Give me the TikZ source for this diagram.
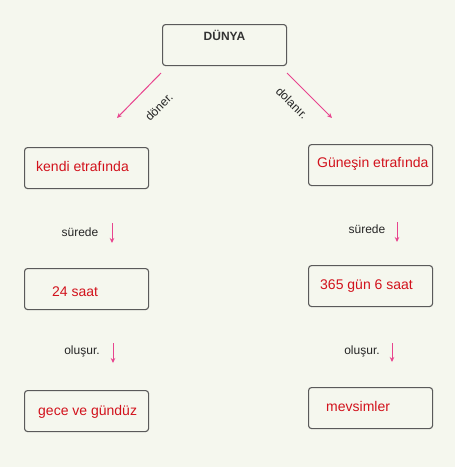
\documentclass[tikz,border=0pt]{standalone}
\usepackage{fontspec}
\setmainfont{Liberation Sans}
\usetikzlibrary{arrows.meta}
\definecolor{bgc}{HTML}{F5F7EE}
\definecolor{boxline}{HTML}{5A5A5A}
\definecolor{redtxt}{HTML}{D2121C}
\definecolor{pinkarr}{HTML}{E8448E}
\begin{document}
\begin{tikzpicture}[x=1pt,y=1pt,
  box/.style={draw=boxline,line width=1.1pt,rounded corners=3pt,fill=bgc,minimum width=124pt,minimum height=41pt,inner sep=0pt,anchor=north west},
  redlbl/.style={text=redtxt,font=\fontsize{14}{16}\selectfont,anchor=west,inner sep=0pt},
  blklbl/.style={text=black!85,font=\fontsize{12}{14}\selectfont,inner sep=0pt},
  pinkarrow/.style={draw=pinkarr,line width=1pt,-{Stealth[length=5pt,width=4.5pt]}}]
\useasboundingbox (0,0) rectangle (468,-467);
\fill[bgc] (0,0) rectangle (455,-467);
% boxes
\node[box] (dunya) at (162,-24) {};
\node[font=\bfseries\fontsize{12}{14}\selectfont,text=black!80,inner sep=0pt] (dunyat) at (224.5,-35) {DÜNYA};
\node[box] (kendi) at (24,-147) {};
\node[redlbl] (kendit) at (36,-166) {kendi etrafında};
\node[box] (gunes) at (308,-144) {};
\node[redlbl] (gunest) at (317,-164) {Güneşin etrafında};
\node[box] (saat) at (24,-268) {};
\node[redlbl] (saatt) at (52,-292) {24 saat};
\node[box] (gun) at (308,-265) {};
\node[redlbl] (gunt) at (320,-286) {365 gün 6 saat};
\node[box] (gece) at (24,-390) {};
\node[redlbl] (gecet) at (38,-412) {gece ve gündüz};
\node[box] (mevs) at (308,-387) {};
\node[redlbl] (mevst) at (326,-406) {mevsimler};
% diagonal arrows
\coordinate (l1) at (161,-73);
\coordinate (l2) at (117,-118);
\coordinate (r1) at (287,-73);
\coordinate (r2) at (332,-118);
\draw[pinkarrow] (l1) -- (l2);
\draw[pinkarrow] (r1) -- (r2);
\node[blklbl,rotate=45] (doner) at (159,-107) {döner.};
\node[blklbl,rotate=-45] (dolanir) at (292,-103) {dolanır.};
% vertical arrows
\coordinate (a1) at (112,-223);
\coordinate (a2) at (112,-243);
\draw[pinkarrow] (a1) -- (a2);
\node[blklbl] (sur1) at (80,-232) {sürede};
\coordinate (b1) at (397,-222);
\coordinate (b2) at (397,-242);
\draw[pinkarrow] (b1) -- (b2);
\node[blklbl] (sur2) at (367,-229) {sürede};
\coordinate (c1) at (113,-343);
\coordinate (c2) at (113,-363);
\draw[pinkarrow] (c1) -- (c2);
\node[blklbl] (olu1) at (82,-351) {oluşur.};
\coordinate (d1) at (392,-343);
\coordinate (d2) at (392,-362);
\draw[pinkarrow] (d1) -- (d2);
\node[blklbl] (olu2) at (362,-351) {oluşur.};
\end{tikzpicture}
\end{document}
